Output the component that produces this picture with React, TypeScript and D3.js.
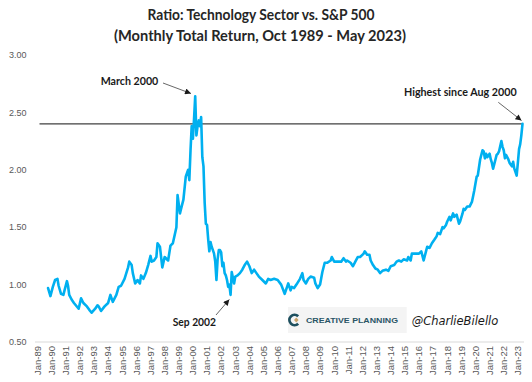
import React from "react";
import * as d3 from "d3";

const months: string[] = [
  "1989-10","1989-12","1990-02","1990-04","1990-06","1990-07","1990-09","1990-11","1990-12",
  "1991-02","1991-03","1991-04","1991-06","1991-08","1991-12",
  "1992-02","1992-04","1992-07","1992-09","1992-11",
  "1993-02","1993-04","1993-05","1993-07","1993-10",
  "1994-01","1994-03","1994-05","1994-08","1994-10","1994-12",
  "1995-03","1995-06","1995-07","1995-09","1995-10","1995-12",
  "1996-02","1996-04","1996-05","1996-07","1996-09","1996-11",
  "1997-01","1997-02","1997-04","1997-06","1997-07","1997-09","1997-11",
  "1998-01","1998-04","1998-06","1998-08","1998-11","1998-12",
  "1999-02","1999-03","1999-05","1999-07","1999-09","1999-10","1999-11","1999-12",
  "2000-01","2000-02","2000-03","2000-04","2000-05","2000-06","2000-07","2000-08","2000-09","2000-10","2000-11","2000-12",
  "2001-01","2001-02","2001-03","2001-04","2001-05","2001-06","2001-07","2001-08","2001-09","2001-10","2001-11","2001-12",
  "2002-01","2002-02","2002-03","2002-04","2002-05","2002-06","2002-07","2002-08","2002-09","2002-10","2002-12",
  "2003-01","2003-03","2003-05","2003-07","2003-09","2003-11",
  "2004-01","2004-03","2004-05","2004-07","2004-09","2004-12",
  "2005-03","2005-05","2005-07","2005-10",
  "2006-01","2006-04","2006-07","2006-09","2006-10","2006-12",
  "2007-01","2007-03","2007-05","2007-08","2007-10","2007-11",
  "2008-01","2008-03","2008-05","2008-08","2008-09","2008-11",
  "2009-01","2009-03","2009-05","2009-07","2009-10","2009-11",
  "2010-01","2010-04","2010-07","2010-09","2010-11","2010-12",
  "2011-03","2011-05","2011-07","2011-09","2011-11",
  "2012-02","2012-03","2012-05","2012-07","2012-08","2012-10","2012-12",
  "2013-02","2013-04","2013-06","2013-09","2013-11",
  "2014-01","2014-04","2014-06","2014-08","2014-10","2014-12",
  "2015-03","2015-04","2015-06","2015-07","2015-10",
  "2016-01","2016-03","2016-05","2016-07","2016-08","2016-10","2016-12",
  "2017-02","2017-04","2017-05","2017-07","2017-09","2017-10","2017-12",
  "2018-01","2018-03","2018-04","2018-06","2018-07","2018-09","2018-11","2018-12",
  "2019-02","2019-03","2019-04","2019-06","2019-08","2019-10","2019-11","2019-12",
  "2020-01","2020-02","2020-03","2020-05","2020-07","2020-08","2020-09","2020-10","2020-11",
  "2021-01","2021-02","2021-03","2021-04","2021-06","2021-07","2021-08","2021-09","2021-11","2021-12",
  "2022-01","2022-02","2022-03","2022-05","2022-06","2022-08","2022-09","2022-10","2022-11","2022-12",
  "2023-01","2023-02","2023-03","2023-04","2023-05",
];

const ratio: number[] = [
  0.97,0.90,0.98,1.04,1.05,0.99,0.92,0.91,0.95,
  1.03,0.99,0.91,0.87,0.84,0.79,
  0.88,0.84,0.81,0.78,0.755,
  0.79,0.82,0.81,0.77,0.81,
  0.84,0.91,0.85,0.91,0.98,0.99,
  1.05,1.15,1.20,1.17,1.10,1.01,
  1.04,1.01,1.08,1.05,1.10,1.17,
  1.25,1.20,1.21,1.24,1.36,1.33,1.15,
  1.24,1.21,1.34,1.36,1.50,1.78,
  1.62,1.66,1.74,1.94,2.00,1.91,2.17,2.38,
  2.27,2.45,2.64,2.30,2.38,2.43,2.38,2.46,2.11,2.03,1.71,1.53,
  1.52,1.39,1.29,1.37,1.33,1.30,1.27,1.20,1.04,1.22,1.30,1.30,
  1.28,1.16,1.19,1.10,1.08,1.04,0.98,1.00,0.91,1.11,1.01,
  1.07,1.08,1.10,1.13,1.17,1.20,
  1.16,1.10,1.13,1.10,1.07,1.04,
  1.01,1.05,1.04,1.05,
  1.04,1.00,0.92,0.98,1.01,0.95,
  0.98,0.97,1.00,1.05,1.10,1.04,
  1.01,1.05,1.07,1.06,1.01,0.97,
  1.00,1.11,1.19,1.19,1.21,1.24,
  1.20,1.20,1.20,1.23,1.20,1.21,
  1.19,1.16,1.20,1.24,1.24,
  1.27,1.29,1.26,1.26,1.21,1.17,1.14,
  1.13,1.10,1.12,1.13,1.12,
  1.16,1.17,1.20,1.21,1.20,1.22,
  1.21,1.24,1.21,1.27,1.27,
  1.27,1.29,1.21,1.29,1.33,1.32,1.36,
  1.39,1.42,1.45,1.44,1.50,1.49,1.52,
  1.55,1.59,1.56,1.62,1.59,1.61,1.53,1.55,
  1.62,1.66,1.65,1.68,1.68,1.72,1.77,1.82,
  1.88,1.94,1.95,2.09,2.17,2.16,2.10,2.14,2.11,
  2.14,2.09,2.06,2.01,2.09,2.13,2.14,2.16,2.25,2.20,
  2.17,2.10,2.13,2.09,2.06,2.03,2.07,2.01,1.98,1.95,
  2.06,2.18,2.22,2.30,2.40,
];

const yTicks: number[] = [0.5, 1.0, 1.5, 2.0, 2.5, 3.0];
const xTickYears: number[] = d3.range(1989, 2024);
const referenceLevel = 2.40;

const titleLines: string[] = [
  "Ratio: Technology Sector vs. S&P 500",
  "(Monthly Total Return, Oct 1989 - May 2023)",
];

export default function App() {
  const W = 532, H = 382;
  const parse = d3.timeParse("%Y-%m");
  const data = months.map((m, i) => ({ date: parse(m) as Date, value: ratio[i] }));

  const x = d3.scaleTime()
    .domain([new Date(1989, 0, 1), new Date(2023, 4, 1)])
    .range([37.5, 522.5]);
  const y = d3.scaleLinear().domain([0.5, 3.0]).range([342, 55]);

  const line = d3.line<{ date: Date; value: number }>()
    .x(d => x(d.date))
    .y(d => y(d.value))
    .curve(d3.curveLinear);

  const fmtTick = d3.format(".2f");
  const labelFont = "'Liberation Sans', Arial, sans-serif";
  const boldFont = "Lato, 'Open Sans', sans-serif";

  return (
    <svg width={W} height={H} viewBox={`0 0 ${W} ${H}`}
      style={{ position: "absolute", left: 0, top: 0, background: "#fff" }}>
      <defs>
        <marker id="ah" viewBox="0 0 10 10" refX="10" refY="5"
          markerUnits="userSpaceOnUse" markerWidth="7" markerHeight="6" orient="auto">
          <path d="M0,0 L10,5 L0,10 z" fill="#1a1a1a" />
        </marker>
      </defs>
      <rect x={0} y={0} width={W} height={H} fill="#fff" />

      {/* Title */}
      <text x={261} y={20} textAnchor="middle" fontFamily={boldFont} fontWeight={700}
        fontSize={15} fill="#262626" textLength={227} lengthAdjust="spacingAndGlyphs">{titleLines[0]}</text>
      <text x={260} y={41} textAnchor="middle" fontFamily={boldFont} fontWeight={700}
        fontSize={15} fill="#262626" textLength={292} lengthAdjust="spacingAndGlyphs">{titleLines[1]}</text>

      {/* Y tick labels */}
      {yTicks.map(t => (
        <text key={t} x={9} y={y(t)} dy="0.35em" fontFamily={labelFont} fontSize={9}
          fill="#595959">{fmtTick(t)}</text>
      ))}

      {/* X axis line */}
      <line x1={35} x2={524} y1={y(0.5)} y2={y(0.5)} stroke="#d9d9d9" strokeWidth={1} />

      {/* X tick labels */}
      {xTickYears.map(yr => {
        const px = x(new Date(yr, 0, 1));
        return (
          <text key={yr} transform={`translate(${px},${346}) rotate(-90)`} dy="0.35em"
            textAnchor="end" fontFamily={labelFont} fontSize={9.5} fill="#595959">
            {`Jan-${String(yr).slice(2)}`}
          </text>
        );
      })}

      {/* Reference line */}
      <line x1={39.5} x2={523} y1={y(referenceLevel)} y2={y(referenceLevel)}
        stroke="#404040" strokeWidth={1.3} />

      {/* Data line */}
      <path d={line(data) || ""} fill="none" stroke="#00b0f0" strokeWidth={2.6}
        strokeLinejoin="round" strokeLinecap="round" />

      {/* Annotations */}
      <text x={100.7} y={84.5} fontFamily={boldFont} fontWeight={700} fontSize={10.5}
        fill="#1a1a1a" textLength={57.6} lengthAdjust="spacingAndGlyphs">March 2000</text>
      <line x1={163} y1={83} x2={191} y2={93.5} stroke="#404040" strokeWidth={0.8} markerEnd="url(#ah)" />

      <text x={404} y={95.5} fontFamily={boldFont} fontWeight={700} fontSize={10.5}
        fill="#1a1a1a" textLength={112.7} lengthAdjust="spacingAndGlyphs">Highest since Aug 2000</text>
      <line x1={498.3} y1={102.3} x2={521.5} y2={120.5} stroke="#404040" strokeWidth={0.8} markerEnd="url(#ah)" />

      <text x={172.7} y={326} fontFamily={boldFont} fontWeight={700} fontSize={10.5}
        fill="#1a1a1a" textLength={43.3} lengthAdjust="spacingAndGlyphs">Sep 2002</text>
      <line x1={216} y1={315} x2={229.3} y2={299.5} stroke="#404040" strokeWidth={0.8} markerEnd="url(#ah)" />

      {/* Logo */}
      <rect x={288} y={307} width={118.7} height={26} fill="#f4f4f4" />
      <path d="M298.2,316.2 A5.2,5.2 0 1 0 298.2,323.8" fill="none" stroke="#1d4f5e" strokeWidth={2.8} />
      <path d="M296.3,317.6 L298.6,320 L296.3,322.4 L294,320 Z" fill="#c9a36a" />
      <text x={306} y={322.8} fontFamily={labelFont} fontWeight={700} fontSize={7.6}
        fill="#2a5566" textLength={92} lengthAdjust="spacingAndGlyphs">CREATIVE PLANNING</text>
      <text x={411.7} y={324.5} fontFamily="'DejaVu Sans', sans-serif" fontStyle="italic"
        fontSize={12} fill="#1a1a1a" textLength={86.6} lengthAdjust="spacingAndGlyphs">@CharlieBilello</text>
    </svg>
  );
}
